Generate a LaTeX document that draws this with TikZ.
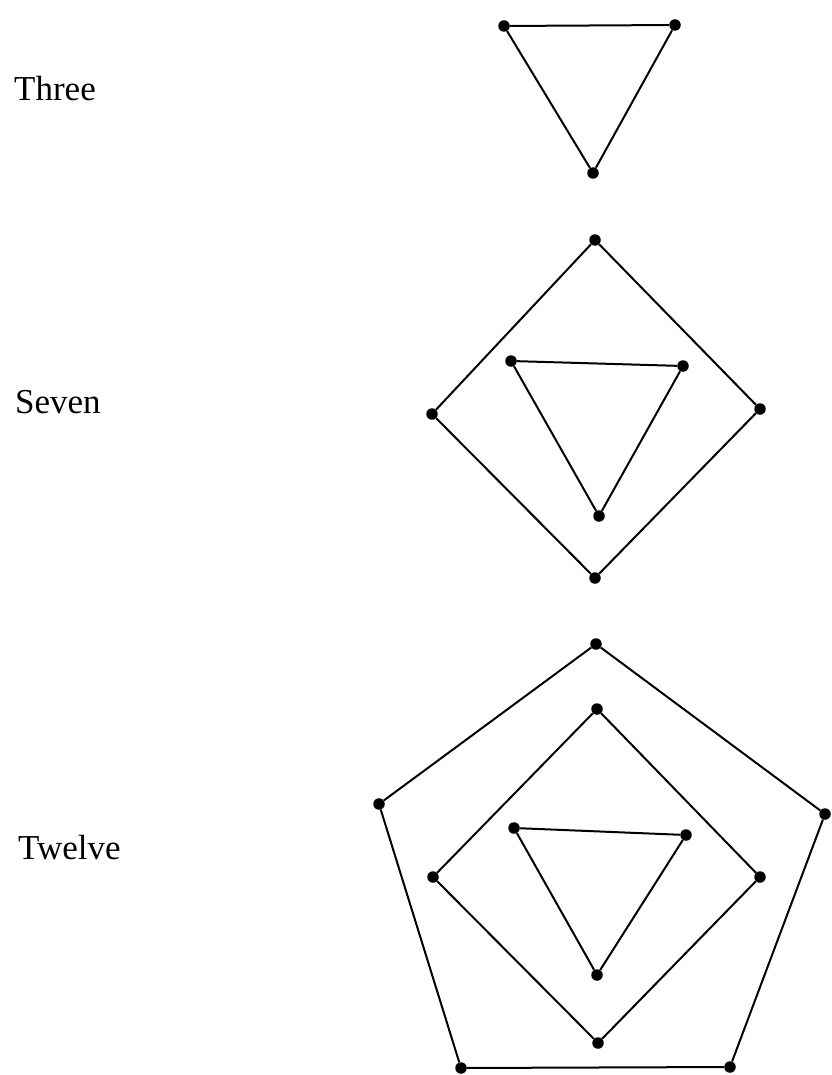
\documentclass[tikz,border=0pt]{standalone}
\usepackage{fontspec}
\setmainfont{Liberation Serif}
\begin{document}
\begin{tikzpicture}[x=1pt,y=-1pt,
  dot/.style={circle,fill=black,inner sep=0pt,minimum size=11.5pt},
  edge/.style={line width=2pt,black},
  lbl/.style={anchor=base west,inner sep=0pt,font=\fontsize{35}{40}\selectfont}]
\useasboundingbox (0,0) rectangle (831,1075);
% labels
\node[lbl] (l3) at (14,101) {Three};
\node[lbl] (l7) at (15,413) {Seven};
\node[lbl] (l12) at (18,859) {Twelve};
% Three
\node[dot] (a1) at (504,26) {};
\node[dot] (a2) at (675,25) {};
\node[dot] (a3) at (593,173) {};
\draw[edge] (a1) -- (a2) -- (a3) -- (a1);
% Seven
\node[dot] (b1) at (595,240) {};
\node[dot] (b2) at (760,409) {};
\node[dot] (b3) at (595,578) {};
\node[dot] (b4) at (432,414) {};
\draw[edge] (b1) -- (b2) -- (b3) -- (b4) -- (b1);
\node[dot] (c1) at (511,361) {};
\node[dot] (c2) at (683,366) {};
\node[dot] (c3) at (599,516) {};
\draw[edge] (c1) -- (c2) -- (c3) -- (c1);
% Twelve
\node[dot] (p1) at (596,644) {};
\node[dot] (p2) at (825,814) {};
\node[dot] (p3) at (730,1067) {};
\node[dot] (p4) at (461,1068) {};
\node[dot] (p5) at (379,804) {};
\draw[edge] (p1) -- (p2) -- (p3) -- (p4) -- (p5) -- (p1);
\node[dot] (s1) at (597,709) {};
\node[dot] (s2) at (760,877) {};
\node[dot] (s3) at (598,1043) {};
\node[dot] (s4) at (433,877) {};
\draw[edge] (s1) -- (s2) -- (s3) -- (s4) -- (s1);
\node[dot] (q1) at (514,828) {};
\node[dot] (q2) at (686,835) {};
\node[dot] (q3) at (597,975) {};
\draw[edge] (q1) -- (q2) -- (q3) -- (q1);
\end{tikzpicture}
\end{document}
